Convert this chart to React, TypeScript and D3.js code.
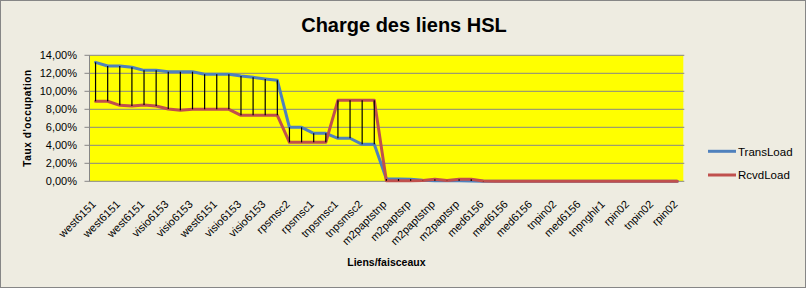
import React from "react";
import * as d3 from "d3";

const labelNames = [
  "west6151", "west6151", "west6151", "visio6153", "visio6153", "west6151", "visio6153", "visio6153",
  "rpsmsc2", "rpsmsc1", "tnpsmsc1", "tnpsmsc2", "m2paptstnp", "m2paptsrp", "m2paptstnp", "m2paptsrp",
  "med6156", "med6156", "med6156", "tnpin02", "med6156", "tnpnghlr1", "rpin02", "tnpin02", "rpin02",
];
// 49 categories; only every other one is labelled on the axis (odd ones repeat the previous label)
const categories: string[] = [];
labelNames.forEach((n, k) => {
  categories.push(n);
  if (k < labelNames.length - 1) categories.push(n);
});

const transLoad = [
  13.22, 12.81, 12.81, 12.67, 12.33, 12.33, 12.18, 12.18, 12.18, 11.89, 11.89, 11.89, 11.7, 11.55, 11.37, 11.22,
  6.0, 6.0, 5.33, 5.33, 4.78, 4.78, 4.11, 4.11, 0.25, 0.25, 0.22, 0.12, 0.05, 0.05, 0.05, 0.03, 0,
  0, 0, 0, 0, 0, 0, 0, 0, 0, 0, 0, 0, 0, 0, 0, 0,
];
const rcvdLoad = [
  8.89, 8.89, 8.44, 8.37, 8.48, 8.37, 8.03, 7.89, 8.0, 8.0, 8.0, 8.0, 7.33, 7.33, 7.33, 7.33,
  4.33, 4.33, 4.33, 4.33, 9.0, 9.0, 9.0, 9.0, 0.05, 0.05, 0.05, 0.08, 0.22, 0.1, 0.22, 0.22, 0.03,
  0, 0, 0, 0, 0, 0, 0, 0, 0, 0, 0, 0, 0, 0, 0, 0,
];
const yTicks = [0, 2, 4, 6, 8, 10, 12, 14];
const seriesNames = ["TransLoad", "RcvdLoad"];
const seriesColors = ["#4F81BD", "#C0504D"];

const W = 806;
const H = 288;
const FONT = "'Liberation Sans', Arial, sans-serif";

export default function App() {
  const left = 89.5;
  const right = 683.3;
  const top = 55.3;
  const bottom = 181.3;

  const x = d3
    .scaleBand<number>()
    .domain(categories.map((_, i) => i))
    .range([left, right])
    .padding(0);
  const y = d3.scaleLinear().domain([0, 14]).range([bottom, top]);
  const cx = (i: number) => (x(i) as number) + x.bandwidth() / 2;

  const line = d3
    .line<number>()
    .x((_, i) => cx(i))
    .y((d) => y(d));

  const fmt = (v: number) => v.toFixed(2).replace(".", ",") + "%";

  return (
    <svg
      width={W}
      height={H}
      style={{ position: "absolute", left: 0, top: 0 }}
      fontFamily={FONT}
    >
      <rect x={0.5} y={0.5} width={W - 1} height={H - 1} fill="#EEECE1" stroke="#868686" />
      <text x={404} y={32} textAnchor="middle" fontSize={20} fontWeight="bold" fill="#000">
        Charge des liens HSL
      </text>

      <rect x={left} y={top} width={right - left} height={bottom - top} fill="#FFFF00" />
      {yTicks.map((t) => (
        <g key={t}>
          <line x1={left - 5} x2={right + 1} y1={y(t)} y2={y(t)} stroke="#868686" strokeWidth={1} />
          <text x={77} y={y(t) + 4} textAnchor="end" fontSize={11} fill="#000">
            {fmt(t)}
          </text>
        </g>
      ))}
      <line x1={left} x2={left} y1={top} y2={bottom} stroke="#868686" />

      <text
        transform={`translate(31,118) rotate(-90)`}
        textAnchor="middle"
        fontSize={10}
        fontWeight="bold"
        letterSpacing={0.6}
      >
        Taux d'occupation
      </text>

      {[transLoad, rcvdLoad].map((s, k) => (
        <path
          key={k}
          d={line(s) || ""}
          fill="none"
          stroke={seriesColors[k]}
          strokeWidth={3}
          strokeLinejoin="round"
          strokeLinecap="round"
        />
      ))}
      {transLoad.map((v, i) => (
        <line key={i} x1={cx(i)} x2={cx(i)} y1={y(v)} y2={y(rcvdLoad[i])} stroke="#000" strokeWidth={1.2} />
      ))}

      {categories.map((c, i) =>
        i % 2 === 0 ? (
          <text
            key={i}
            transform={`translate(${cx(i) + 1},205) rotate(-45)`}
            textAnchor="end"
            fontSize={11}
            fill="#000"
          >
            {c}
          </text>
        ) : null
      )}

      <text x={(left + right) / 2} y={266} textAnchor="middle" fontSize={10.5} fontWeight="bold">
        Liens/faisceaux
      </text>

      {seriesNames.map((n, k) => (
        <g key={n}>
          <line
            x1={708}
            x2={736}
            y1={151.3 + k * 23.7}
            y2={151.3 + k * 23.7}
            stroke={seriesColors[k]}
            strokeWidth={3}
          />
          <text x={738} y={155.5 + k * 23.7} fontSize={11.5} fill="#000">
            {n}
          </text>
        </g>
      ))}
    </svg>
  );
}
